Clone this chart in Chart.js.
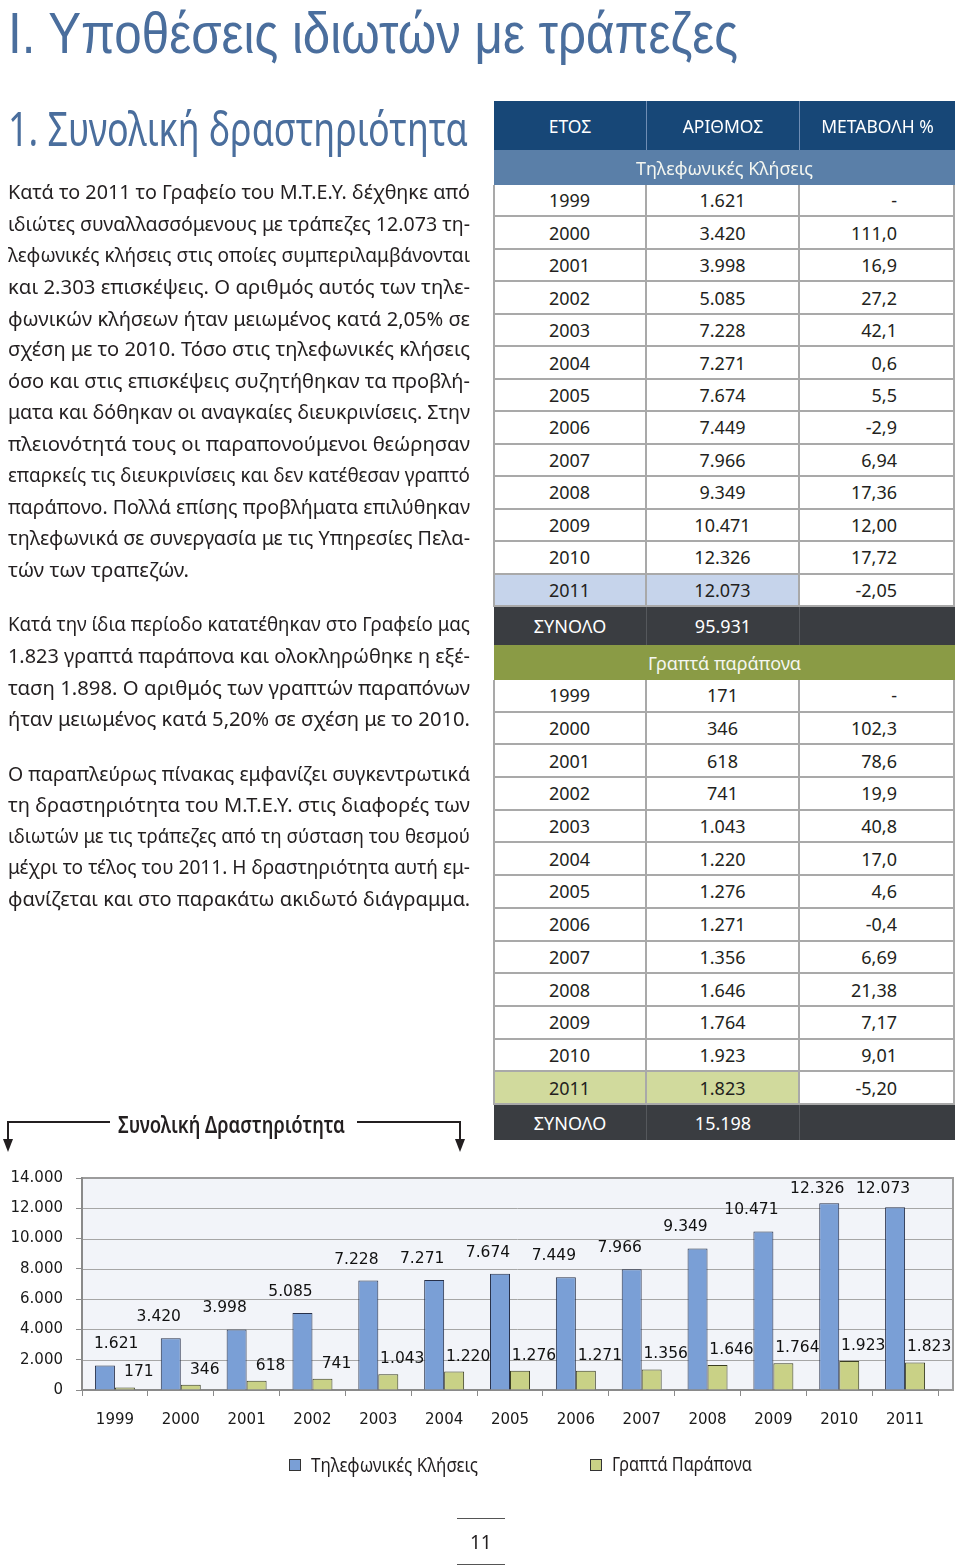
<!DOCTYPE html>
<html><head><meta charset="utf-8">
<script src="https://cdn.jsdelivr.net/npm/chart.js@4"></script>
<style>
html,body{margin:0;padding:0;background:#fff;}
body{width:960px;height:1566px;position:relative;overflow:hidden;font-family:"Noto Sans",sans-serif;color:#231f20;}
.t{position:absolute;white-space:pre;}
.c{position:absolute;box-sizing:border-box;display:flex;align-items:center;white-space:pre;font-size:18px;}
</style></head><body>
<canvas id="chart" width="960" height="284" style="position:absolute;left:0;top:1156px"></canvas>
<svg width="960" height="1566" style="position:absolute;left:0;top:0;pointer-events:none" id="deco" xmlns="http://www.w3.org/2000/svg">
  <path d="M8 1142 L8 1122 L110 1122" fill="none" stroke="#231f20" stroke-width="2"/>
  <polygon points="3,1139 13,1139 8,1152" fill="#231f20"/>
  <path d="M357 1122 L460 1122 L460 1142" fill="none" stroke="#231f20" stroke-width="2"/>
  <polygon points="455,1139 465,1139 460,1152" fill="#231f20"/>
  <line x1="457" y1="1518.5" x2="505" y2="1518.5" stroke="#555" stroke-width="1"/>
  <line x1="457" y1="1564.5" x2="505" y2="1564.5" stroke="#555" stroke-width="1"/>
</svg>
<script>
// ---------- data ----------
const years = ['1999','2000','2001','2002','2003','2004','2005','2006','2007','2008','2009','2010','2011'];
const calls = [1621,3420,3998,5085,7228,7271,7674,7449,7966,9349,10471,12326,12073];
const complaints = [171,346,618,741,1043,1220,1276,1271,1356,1646,1764,1923,1823];
const callsChange = ['-','111,0','16,9','27,2','42,1','0,6','5,5','-2,9','6,94','17,36','12,00','17,72','-2,05'];
const complaintsChange = ['-','102,3','78,6','19,9','40,8','17,0','4,6','-0,4','6,69','21,38','7,17','9,01','-5,20'];
const callsTotal = 95931;
const complaintsTotal = 15198;
const seriesNames = ['Τηλεφωνικές Κλήσεις','Γραπτά Παράπονα'];
const tableHeaders = ['ΕΤΟΣ','ΑΡΙΘΜΟΣ','ΜΕΤΑΒΟΛΗ %'];
const tableSections = ['Τηλεφωνικές Κλήσεις','Γραπτά παράπονα'];
const totalLabel = 'ΣΥΝΟΛΟ';
const yMax = 14000, yStep = 2000;

const fmt = n => String(n).replace(/\B(?=(\d{3})+(?!\d))/g,'.');

// ---------- text helper ----------
function placeText(txt, x, baseline, size, o = {}) {
  const lh = 0.9;
  const asc = o.font ? 0.905 : 1.069, cont = o.font ? 1.117 : 1.362;
  const k = (lh - cont) / 2 + asc;
  const d = document.createElement('div');
  d.className = 't';
  d.textContent = txt;
  if (o.font) d.style.fontFamily = o.font;
  if (o.color) d.style.color = o.color;
  if (o.weight) d.style.fontWeight = o.weight;
  const setSize = fs => {
    d.style.fontSize = fs + 'px';
    d.style.lineHeight = (fs * lh) + 'px';
    d.style.top = (baseline - k * fs) + 'px';
    d.style.left = x + 'px';
  };
  setSize(size);
  document.body.appendChild(d);
  let w = d.getBoundingClientRect().width;
  if (o.width) {
    const n = (txt.match(/ /g) || []).length;
    if (o.justify && w < o.width && n) {
      d.style.wordSpacing = ((o.width - w) / n) + 'px';
    } else if (w > o.width || o.stretch) {
      const fs = size * o.width / w;
      setSize(fs);
      w = d.getBoundingClientRect().width;
      const sx = o.width / w, sy = size / fs;
      d.style.transformOrigin = `0px ${k * fs}px`;
      d.style.transform = `scale(${sx}, ${sy})`;
    }
  }
  return d;
}

const blue = '#4a6e9d';
placeText('Ι. Υποθέσεις ιδιωτών με τράπεζες', 8, 53, 57.5, {color: blue, width: 730, stretch: true, font: '"Liberation Sans"'});
placeText('1. Συνολική δραστηριότητα', 8, 147, 48, {color: blue, width: 460, stretch: true});

const paras = [
  {start: 200, lines: [
    'Κατά το 2011 το Γραφείο του Μ.Τ.Ε.Υ. δέχθηκε από',
    'ιδιώτες συναλλασσόμενους με τράπεζες 12.073 τη-',
    'λεφωνικές κλήσεις στις οποίες συμπεριλαμβάνονται',
    'και 2.303 επισκέψεις. Ο αριθμός αυτός των τηλε-',
    'φωνικών κλήσεων ήταν μειωμένος κατά 2,05% σε',
    'σχέση με το 2010. Τόσο στις τηλεφωνικές κλήσεις',
    'όσο και στις επισκέψεις συζητήθηκαν τα προβλή-',
    'ματα και δόθηκαν οι αναγκαίες διευκρινίσεις. Στην',
    'πλειονότητά τους οι παραπονούμενοι θεώρησαν',
    'επαρκείς τις διευκρινίσεις και δεν κατέθεσαν γραπτό',
    'παράπονο. Πολλά επίσης προβλήματα επιλύθηκαν',
    'τηλεφωνικά σε συνεργασία με τις Υπηρεσίες Πελα-',
    'τών των τραπεζών.']},
  {start: 632, lines: [
    'Κατά την ίδια περίοδο κατατέθηκαν στο Γραφείο μας',
    '1.823 γραπτά παράπονα και ολοκληρώθηκε η εξέ-',
    'ταση 1.898. Ο αριθμός των γραπτών παραπόνων',
    'ήταν μειωμένος κατά 5,20% σε σχέση με το 2010.']},
  {start: 781, lines: [
    'Ο παραπλεύρως πίνακας εμφανίζει συγκεντρωτικά',
    'τη δραστηριότητα του Μ.Τ.Ε.Υ. στις διαφορές των',
    'ιδιωτών με τις τράπεζες από τη σύσταση του θεσμού',
    'μέχρι το τέλος του 2011. Η δραστηριότητα αυτή εμ-',
    'φανίζεται και στο παρακάτω ακιδωτό διάγραμμα.']}
];
paras.forEach(p => {
  p.lines.forEach((ln, i) => {
    const last = i === p.lines.length - 1;
    placeText(ln, 8, p.start + i * 31.4, 20.5, {width: 462, justify: !last});
  });
});

placeText('Συνολική Δραστηριότητα', 118, 1133, 24, {weight: 600, width: 227, stretch: true});
placeText('11', 470, 1550, 19);

// ---------- table ----------
const X = [494, 647, 800, 955];
const gridC = '#a9a9a9';
function cell(x, y, w, h, txt, st = {}) {
  const d = document.createElement('div');
  d.className = 'c';
  d.style.left = x + 'px'; d.style.top = y + 'px';
  d.style.width = w + 'px'; d.style.height = h + 'px';
  d.style.background = st.bg || '#fff';
  d.style.color = st.color || '#231f20';
  d.style.justifyContent = st.align || 'center';
  if (st.pr) d.style.paddingRight = st.pr + 'px';
  if (st.br) d.style.borderRight = st.br;
  if (st.bb) d.style.borderBottom = st.bb;
  if (st.size) d.style.fontSize = st.size + 'px';
  d.textContent = txt;
  document.body.appendChild(d);
}
function headerRow(y, h) {
  tableHeaders.forEach((t, i) => cell(X[i], y, X[i+1]-X[i], h, t,
    {bg: '#174777', color: '#fff', br: i < 2 ? '1px solid #6f8db4' : null, size: 17.5}));
}
function sectionRow(y, h, txt, bg) {
  cell(X[0], y, X[3]-X[0], h, txt, {bg, color: '#f4f6f0', size: 18});
}
function dataRows(y0, h, vals, changes, hl) {
  years.forEach((yr, j) => {
    const y = y0 + j * h;
    const last = j === years.length - 1;
    const bg = last ? hl : '#fff';
    const b = `2px solid ${gridC}`;
    cell(X[0], y, X[1]-X[0], h, yr, {bg, br: b, bb: b});
    cell(X[1], y, X[2]-X[1], h, fmt(vals[j]), {bg, br: b, bb: b});
    cell(X[2], y, X[3]-X[2], h, changes[j], {align: 'flex-end', pr: 56, br: b, bb: b});
  });
}
function totalRow(y, h, total) {
  const br = '1px solid #55585c';
  cell(X[0], y, X[1]-X[0], h, totalLabel, {bg: '#3a3d41', color: '#fff', br});
  cell(X[1], y, X[2]-X[1], h, fmt(total), {bg: '#3a3d41', color: '#fff', br});
  cell(X[2], y, X[3]-X[2], h, '', {bg: '#3a3d41'});
}
headerRow(101, 49);
sectionRow(150, 35, tableSections[0], '#5a7fa8');
dataRows(185, (607-185)/13, calls, callsChange, '#c6d4eb');
totalRow(607, 38, callsTotal);
sectionRow(645, 35, tableSections[1], '#8a9b45');
dataRows(680, (1105-680)/13, complaints, complaintsChange, '#d1da9d');
totalRow(1105, 35, complaintsTotal);
[[185, 607], [680, 1105]].forEach(([a, b]) => {
  const d = document.createElement('div');
  d.style.cssText = `position:absolute;left:493px;top:${a}px;width:2px;height:${b-a}px;background:${gridC}`;
  document.body.appendChild(d);
});

// ---------- chart ----------
const colors = ['#7a9fd6', '#c9d186'];
const borders = ['#27304a', '#3b3e22'];
const labelOffsets = [{x: -12, y: -21}, {x: 14, y: -15}];
const EXT = 15;

const framePlugin = {
  id: 'frame',
  beforeDraw(chart) {
    const {ctx, chartArea: a, scales: {y}} = chart;
    ctx.save();
    ctx.fillStyle = '#f2f4f9';
    ctx.fillRect(a.left, a.top, a.right + EXT - a.left, a.bottom - a.top);
    ctx.strokeStyle = '#a6a6a6'; ctx.lineWidth = 1;
    y.ticks.forEach(t => {
      const py = Math.round(y.getPixelForValue(t.value)) + 0.5;
      ctx.beginPath(); ctx.moveTo(a.left, py); ctx.lineTo(a.right + EXT, py); ctx.stroke();
    });
    ctx.strokeStyle = '#9c9c9c'; ctx.lineWidth = 2;
    ctx.strokeRect(a.left, a.top, a.right + EXT - a.left, a.bottom - a.top);
    ctx.restore();
  }
};
const labelPlugin = {
  id: 'vlabels',
  afterDatasetsDraw(chart) {
    const {ctx, chartArea: a} = chart;
    ctx.save();
    ctx.font = '15.5px "DejaVu Sans"';
    ctx.fillStyle = '#111';
    ctx.textAlign = 'center'; ctx.textBaseline = 'middle';
    chart.data.datasets.forEach((ds, i) => {
      const meta = chart.getDatasetMeta(i);
      const off = labelOffsets[i];
      meta.data.forEach((bar, j) => {
        const txt = fmt(ds.data[j]);
        const half = ctx.measureText(txt).width / 2;
        const x = Math.max(bar.x + off.x, a.left + half + 12);
        const y = Math.max(bar.y + off.y, a.top + 11);
        ctx.fillText(txt, x, y);
      });
    });
    ctx.restore();
  }
};

Chart.defaults.font.family = '"DejaVu Sans"';
Chart.defaults.color = '#1a1a1a';
new Chart(document.getElementById('chart'), {
  type: 'bar',
  data: {
    labels: years,
    datasets: [
      {label: seriesNames[0], data: calls, backgroundColor: colors[0], borderColor: borders[0], borderWidth: 1},
      {label: seriesNames[1], data: complaints, backgroundColor: colors[1], borderColor: borders[1], borderWidth: 1}
    ]
  },
  options: {
    responsive: false, animation: false, devicePixelRatio: 1,
    categoryPercentage: 0.607, barPercentage: 1,
    layout: {padding: {top: 14, right: 22, left: 0, bottom: 0}},
    plugins: {legend: {display: false}, tooltip: {enabled: false}},
    scales: {
      x: {
        grid: {drawOnChartArea: false, drawTicks: true, tickLength: 6, color: '#8a8a8a', offset: true},
        border: {display: true, color: '#8a8a8a', width: 2},
        ticks: {font: {size: 15}, padding: 15, color: '#1a1a1a', maxRotation: 0},
        afterFit: s => { s.height = 50; }
      },
      y: {
        min: 0, max: yMax,
        grid: {drawOnChartArea: false, drawTicks: true, tickLength: 6, color: '#8a8a8a'},
        border: {display: true, color: '#8a8a8a', width: 2},
        ticks: {stepSize: yStep, font: {size: 15}, padding: 13, color: '#1a1a1a', callback: v => fmt(v)},
        afterFit: s => { s.width = 82; }
      }
    }
  },
  plugins: [framePlugin, labelPlugin]
});

// ---------- legend ----------
const legendX = [289, 590];
seriesNames.forEach((n, i) => {
  const b = document.createElement('div');
  b.style.cssText = `position:absolute;left:${legendX[i]}px;top:1459px;width:12px;height:12px;box-sizing:border-box;background:${colors[i]};border:1.5px solid #333`;
  document.body.appendChild(b);
  placeText(n, legendX[i] + 22, 1472, 19.5, {width: i === 0 ? 167 : 140, stretch: true});
});
</script>
</body></html>
